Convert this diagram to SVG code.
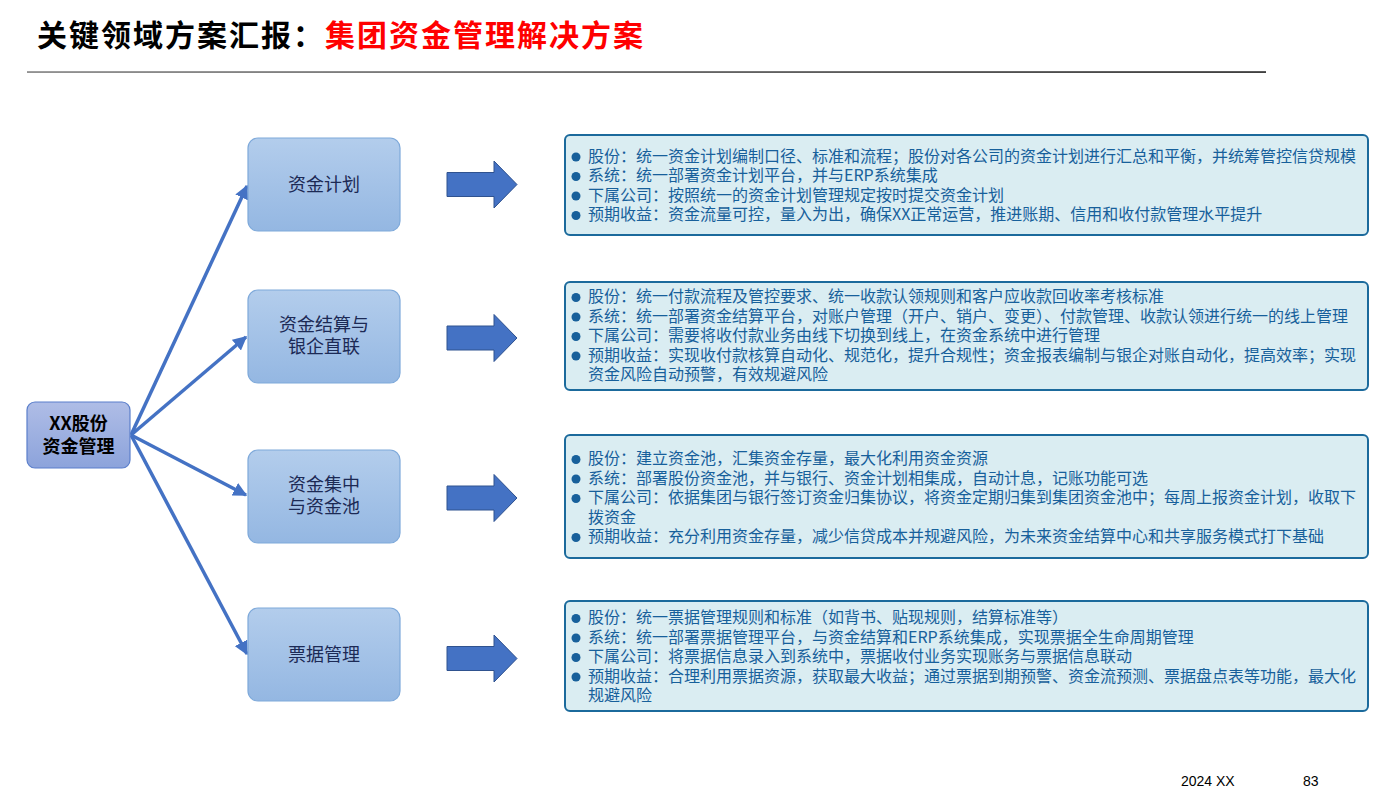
<svg xmlns="http://www.w3.org/2000/svg" width="1398" height="793" viewBox="0 0 1398 793">
<defs>
<linearGradient id="gNode" x1="0" y1="0" x2="0" y2="1"><stop offset="0" stop-color="#B3CDEC"/><stop offset="1" stop-color="#94B7E2"/></linearGradient>
<linearGradient id="gRoot" x1="0" y1="0" x2="0" y2="1"><stop offset="0" stop-color="#AFBDE6"/><stop offset="1" stop-color="#8CA3DB"/></linearGradient>
<linearGradient id="gLine" gradientUnits="userSpaceOnUse" x1="27" y1="0" x2="1266" y2="0"><stop offset="0" stop-color="#777"/><stop offset="1" stop-color="#111"/></linearGradient>
<marker id="ah" viewBox="0 0 10 10" refX="9" refY="5" markerWidth="4" markerHeight="4" orient="auto" markerUnits="strokeWidth"><path d="M0,0 L10,5 L0,10 z" fill="#4472C4"/></marker>
<style>
.t{font-family:"Noto Sans CJK SC","Noto Sans",sans-serif}
.node{fill:url(#gNode);stroke:#7EA9DA;stroke-width:1.2}
.nt{font-family:"Noto Sans CJK SC",sans-serif;font-size:18px;fill:#1C2A55;text-anchor:middle}
.box{fill:#DAEDF2;stroke:#1B6A9C;stroke-width:2}
.bt{font-family:"Noto Sans CJK SC","Noto Sans",sans-serif;font-size:16px;fill:#17609B}
.dot{fill:#17609B}
.conn{stroke:#4472C4;stroke-width:3.5;fill:none;marker-end:url(#ah)}
.barrow{fill:#4472C4;stroke:#2F528F;stroke-width:1}
</style>
</defs>
<rect width="1398" height="793" fill="#fff"/>
<text class="t" x="37" y="46" font-size="30" font-weight="bold" fill="#000" letter-spacing="2">关键领域方案汇报：<tspan fill="#FF0000">集团资金管理解决方案</tspan></text>
<rect x="27" y="71.3" width="1239" height="1.5" fill="url(#gLine)"/>

<g id="connectors">
<line class="conn" x1="131" y1="435" x2="247" y2="186"/>
<line class="conn" x1="131" y1="435" x2="246" y2="337"/>
<line class="conn" x1="131" y1="435" x2="246" y2="495"/>
<line class="conn" x1="131" y1="435" x2="247" y2="654"/>
<path class="barrow" d="M447,172.5 H494 V161 L517,184.5 L494,208 V196.5 H447 Z"/>
<path class="barrow" d="M447,326 H494 V314.5 L517,338 L494,361.5 V350 H447 Z"/>
<path class="barrow" d="M447,486 H494 V474.5 L517,498 L494,521.5 V510 H447 Z"/>
<path class="barrow" d="M447,646.5 H494 V635 L517,658.5 L494,682 V670.5 H447 Z"/>
</g>

<g id="root">
<rect x="27" y="402" width="103" height="66" rx="8" fill="url(#gRoot)" stroke="#5B7FCB" stroke-width="1.2"/>
<text class="nt" x="78.5" y="430" font-weight="bold" style="fill:#000">XX股份</text>
<text class="nt" x="78.5" y="453" font-weight="bold" style="fill:#000">资金管理</text>
</g>

<g id="n1">
<rect class="node" x="248" y="138" width="152" height="93" rx="10"/>
<text class="nt" x="324" y="190.5">资金计划</text>
</g>
<g id="n2">
<rect class="node" x="248" y="290" width="152" height="93" rx="10"/>
<text class="nt" x="324" y="331">资金结算与</text>
<text class="nt" x="324" y="353">银企直联</text>
</g>
<g id="n3">
<rect class="node" x="248" y="450" width="152" height="93" rx="10"/>
<text class="nt" x="324" y="491">资金集中</text>
<text class="nt" x="324" y="513">与资金池</text>
</g>
<g id="n4">
<rect class="node" x="248" y="608" width="152" height="93" rx="10"/>
<text class="nt" x="324" y="661">票据管理</text>
</g>

<g id="b1">
<rect class="box" x="565" y="135" width="803" height="100" rx="5"/>
<circle class="dot" cx="576" cy="157" r="4.5"/>
<circle class="dot" cx="576" cy="176.5" r="4.5"/>
<circle class="dot" cx="576" cy="196" r="4.5"/>
<circle class="dot" cx="576" cy="215.5" r="4.5"/>
<text class="bt" x="588" y="161.5">股份：统一资金计划编制口径、标准和流程；股份对各公司的资金计划进行汇总和平衡，并统筹管控信贷规模</text>
<text class="bt" x="588" y="181">系统：统一部署资金计划平台，并与ERP系统集成</text>
<text class="bt" x="588" y="200.5">下属公司：按照统一的资金计划管理规定按时提交资金计划</text>
<text class="bt" x="588" y="220">预期收益：资金流量可控，量入为出，确保XX正常运营，推进账期、信用和收付款管理水平提升</text>
</g>

<g id="b2">
<rect class="box" x="565" y="282" width="803" height="108" rx="5"/>
<circle class="dot" cx="576" cy="297.5" r="4.5"/>
<circle class="dot" cx="576" cy="317" r="4.5"/>
<circle class="dot" cx="576" cy="336.5" r="4.5"/>
<circle class="dot" cx="576" cy="356" r="4.5"/>
<text class="bt" x="588" y="302">股份：统一付款流程及管控要求、统一收款认领规则和客户应收款回收率考核标准</text>
<text class="bt" x="588" y="321.5">系统：统一部署资金结算平台，对账户管理（开户、销户、变更）、付款管理、收款认领进行统一的线上管理</text>
<text class="bt" x="588" y="341">下属公司：需要将收付款业务由线下切换到线上，在资金系统中进行管理</text>
<text class="bt" x="588" y="360.5">预期收益：实现收付款核算自动化、规范化，提升合规性；资金报表编制与银企对账自动化，提高效率；实现</text>
<text class="bt" x="588" y="380">资金风险自动预警，有效规避风险</text>
</g>

<g id="b3">
<rect class="box" x="565" y="435" width="803" height="123" rx="5"/>
<circle class="dot" cx="576" cy="459.5" r="4.5"/>
<circle class="dot" cx="576" cy="479" r="4.5"/>
<circle class="dot" cx="576" cy="498.5" r="4.5"/>
<circle class="dot" cx="576" cy="537.5" r="4.5"/>
<text class="bt" x="588" y="464">股份：建立资金池，汇集资金存量，最大化利用资金资源</text>
<text class="bt" x="588" y="483.5">系统：部署股份资金池，并与银行、资金计划相集成，自动计息，记账功能可选</text>
<text class="bt" x="588" y="503">下属公司：依据集团与银行签订资金归集协议，将资金定期归集到集团资金池中；每周上报资金计划，收取下</text>
<text class="bt" x="588" y="522.5">拨资金</text>
<text class="bt" x="588" y="542">预期收益：充分利用资金存量，减少信贷成本并规避风险，为未来资金结算中心和共享服务模式打下基础</text>
</g>

<g id="b4">
<rect class="box" x="565" y="601" width="803" height="110" rx="5"/>
<circle class="dot" cx="576" cy="618.5" r="4.5"/>
<circle class="dot" cx="576" cy="638" r="4.5"/>
<circle class="dot" cx="576" cy="657.5" r="4.5"/>
<circle class="dot" cx="576" cy="677" r="4.5"/>
<text class="bt" x="588" y="623">股份：统一票据管理规则和标准（如背书、贴现规则，结算标准等）</text>
<text class="bt" x="588" y="642.5">系统：统一部署票据管理平台，与资金结算和ERP系统集成，实现票据全生命周期管理</text>
<text class="bt" x="588" y="662">下属公司：将票据信息录入到系统中，票据收付业务实现账务与票据信息联动</text>
<text class="bt" x="588" y="681.5">预期收益：合理利用票据资源，获取最大收益；通过票据到期预警、资金流预测、票据盘点表等功能，最大化</text>
<text class="bt" x="588" y="701">规避风险</text>
</g>

<text x="1181" y="786" font-family="Liberation Sans, sans-serif" font-size="14" fill="#000">2024 XX</text>
<text x="1303" y="786" font-family="Liberation Sans, sans-serif" font-size="14" fill="#000">83</text>
</svg>
